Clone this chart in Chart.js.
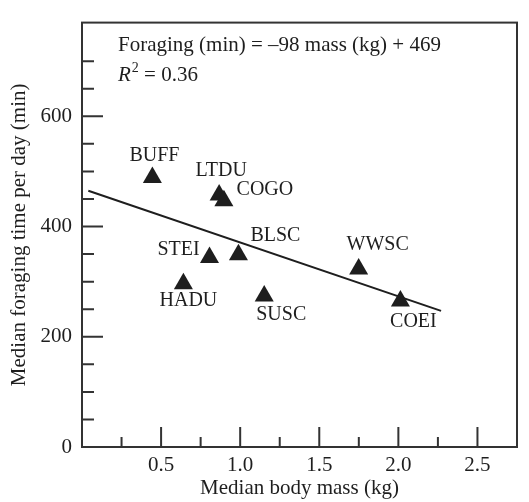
<!DOCTYPE html>
<html>
<head>
<meta charset="utf-8">
<script src="https://cdn.jsdelivr.net/npm/chart.js@4.4.1/dist/chart.umd.min.js"></script>
<style>
  html, body { margin: 0; padding: 0; background: #fff; }
  #wrap { width: 529px; height: 502px; }
</style>
</head>
<body>
<div id="wrap"><canvas id="forageChart"></canvas></div>
<script>
// species codes and their medians
const species = ["BUFF", "LTDU", "COGO", "STEI", "BLSC", "HADU", "SUSC", "WWSC", "COEI"];
const bodyMass = [0.445, 0.867, 0.897, 0.806, 0.989, 0.641, 1.152, 1.749, 2.013];
const foragingMin = [489, 457, 447, 344, 349, 296, 274, 323, 265];

// ends of the fitted line as drawn
const fitMass = [0.04, 2.27];
const fitMin = [465, 247];

const yTickLabels = [0, 200, 400, 600];
const xTickLabels = [0.5, 1.0, 1.5, 2.0, 2.5];

const ink = "#1e1e1e";
const serif = '"Liberation Serif", "DejaVu Serif", serif';

// where each code sits relative to its marker (px)
const labelOffsets = {
    BUFF: [2, -22], LTDU: [2, -24], COGO: [41, -11],
    STEI: [-31, -8], BLSC: [37, -19], HADU: [5, 17],
    SUSC: [17, 19], WWSC: [19, -24], COEI: [13, 21]
};

const near = (a, b) => Math.abs(a - b) < 1e-6;

const frameAndTicks = {
    id: "frameAndTicks",
    afterDatasetsDraw(chart) {
        const ctx = chart.ctx, a = chart.chartArea;
        const x = chart.scales.x, y = chart.scales.y;
        ctx.save();
        ctx.strokeStyle = "#333";
        ctx.lineWidth = 2;
        ctx.beginPath();
        y.ticks.forEach(t => {
            if (t.value <= 0 || t.value % 50 !== 0 || t.value >= y.max) return;
            const py = y.getPixelForValue(t.value);
            const len = t.value % 200 === 0 ? 21 : 12;
            ctx.moveTo(a.left, py);
            ctx.lineTo(a.left + len, py);
        });
        x.ticks.forEach(t => {
            if (t.value <= 0 || t.value >= x.max - 1e-6) return;
            const px = x.getPixelForValue(t.value);
            const len = near(t.value * 2, Math.round(t.value * 2)) ? 20 : 10;
            ctx.moveTo(px, a.bottom);
            ctx.lineTo(px, a.bottom - len);
        });
        ctx.stroke();
        ctx.strokeRect(a.left, a.top, a.right - a.left, a.bottom - a.top);
        ctx.restore();
    }
};

const speciesLabels = {
    id: "speciesLabels",
    afterDatasetsDraw(chart) {
        const ctx = chart.ctx;
        const meta = chart.getDatasetMeta(1);
        ctx.save();
        ctx.fillStyle = ink;
        ctx.font = "20px " + serif;
        ctx.textAlign = "center";
        ctx.textBaseline = "middle";
        meta.data.forEach((pt, i) => {
            const off = labelOffsets[species[i]];
            ctx.fillText(species[i], pt.x + off[0], pt.y + off[1]);
        });
        ctx.restore();
    }
};

const equation = {
    id: "equation",
    afterDatasetsDraw(chart) {
        const ctx = chart.ctx, a = chart.chartArea;
        const x0 = a.left + 36;
        ctx.save();
        ctx.fillStyle = ink;
        ctx.textBaseline = "alphabetic";
        ctx.font = "21px " + serif;
        ctx.fillText("Foraging (min) = \u201398 mass (kg) + 469", x0, a.top + 28);
        const y2 = a.top + 58;
        ctx.font = "italic 21px " + serif;
        ctx.fillText("R", x0, y2);
        let w = ctx.measureText("R").width;
        ctx.font = "14px " + serif;
        ctx.fillText("2", x0 + w + 1, y2 - 9);
        w += ctx.measureText("2").width + 1;
        ctx.font = "21px " + serif;
        ctx.fillText(" = 0.36", x0 + w, y2);
        ctx.restore();
    }
};

new Chart(document.getElementById("forageChart").getContext("2d"), {
    type: "scatter",
    data: {
        datasets: [
            {
                data: fitMass.map((m, i) => ({ x: m, y: fitMin[i] })),
                showLine: true,
                borderColor: ink,
                borderWidth: 2,
                pointRadius: 0
            },
            {
                data: bodyMass.map((m, i) => ({ x: m, y: foragingMin[i] })),
                pointStyle: "triangle",
                pointRadius: 11,
                backgroundColor: ink,
                borderColor: ink,
                borderWidth: 0
            }
        ]
    },
    options: {
        responsive: true,
        maintainAspectRatio: false,
        animation: false,
        layout: { padding: { top: 12, right: 12, left: 0, bottom: 0 } },
        plugins: { legend: { display: false }, tooltip: { enabled: false } },
        scales: {
            x: {
                type: "linear",
                min: 0,
                max: 2.75,
                afterFit(s) { s.height = 55; },
                grid: { display: false, drawTicks: false },
                border: { display: false },
                ticks: {
                    stepSize: 0.25,
                    autoSkip: false,
                    maxRotation: 0,
                    padding: 6,
                    color: ink,
                    font: { family: serif, size: 21 },
                    callback: v => xTickLabels.some(l => near(l, v)) ? v.toFixed(1) : ""
                },
                title: {
                    display: true,
                    text: "Median body mass (kg)",
                    color: ink,
                    font: { family: serif, size: 21 },
                    padding: { top: 0, bottom: 1 }
                }
            },
            y: {
                min: 0,
                max: 770,
                afterFit(s) { s.width = 82; },
                grid: { display: false, drawTicks: false },
                border: { display: false },
                ticks: {
                    stepSize: 50,
                    autoSkip: false,
                    padding: 10,
                    color: ink,
                    font: { family: serif, size: 21 },
                    callback: v => yTickLabels.includes(v) ? String(v) : ""
                },
                title: {
                    display: true,
                    text: "Median foraging time per day (min)",
                    color: ink,
                    font: { family: serif, size: 21 },
                    padding: { top: 7, bottom: 0 }
                }
            }
        }
    },
    plugins: [frameAndTicks, speciesLabels, equation]
});
</script>
</body>
</html>
